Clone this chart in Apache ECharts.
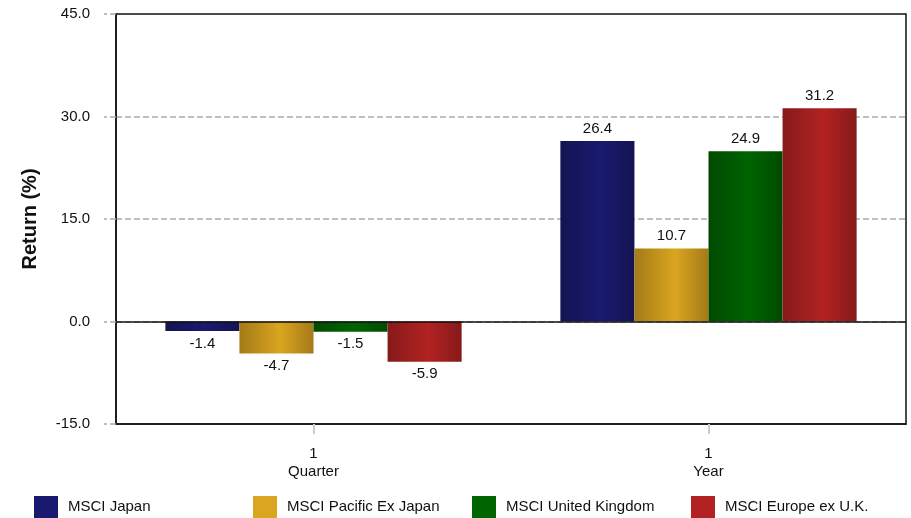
<!DOCTYPE html>
<html><head><meta charset="utf-8">
<script src="https://cdn.jsdelivr.net/npm/echarts@6/dist/echarts.min.js"></script>
<style>html,body{margin:0;padding:0;background:#fff}#c{width:911px;height:518px}</style>
</head><body><div id="c"></div>
<script>
const categories = ['1\nQuarter', '1\nYear'];
const seriesNames = ['MSCI Japan', 'MSCI Pacific Ex Japan', 'MSCI United Kingdom', 'MSCI Europe ex U.K.'];
const msciJapan = [-1.4, 26.4];
const msciPacificExJapan = [-4.7, 10.7];
const msciUnitedKingdom = [-1.5, 24.9];
const msciEuropeExUK = [-5.9, 31.2];
const yTicks = [-15, 0, 15, 30, 45];

const values = [msciJapan, msciPacificExJapan, msciUnitedKingdom, msciEuropeExUK];
const baseColors = ['#191970', '#DAA520', '#006400', '#B22222'];
const darkColors = ['#141452', '#a47a18', '#004a00', '#861a1a'];
const legendLefts = [34, 253, 472, 691];
const FONT = '"Liberation Sans", Arial, sans-serif';
const FS = 15;

function grad(i) {
  return new echarts.graphic.LinearGradient(0, 0, 1, 0, [
    {offset: 0, color: darkColors[i]},
    {offset: 0.55, color: baseColors[i]},
    {offset: 1, color: darkColors[i]}
  ]);
}

const series = values.map((v, i) => ({
  name: seriesNames[i],
  type: 'bar',
  data: v.map(x => ({value: x, label: {position: x < 0 ? 'bottom' : 'top'}})),
  barGap: '0%',
  barCategoryGap: '25%',
  itemStyle: {color: grad(i)},
  label: {show: true, distance: 5, color: '#111', fontSize: FS, fontFamily: FONT,
    formatter: p => p.value.toFixed(1)},
  markLine: i === 0 ? {silent: true, symbol: 'none', label: {show: false},
    lineStyle: {color: '#111', type: 'solid', width: 1.5}, data: [{yAxis: 0}]} : undefined
}));

const legends = seriesNames.map((n, i) => ({
  data: [{name: n, itemStyle: {color: baseColors[i]}}],
  left: legendLefts[i], top: 496, padding: 0,
  itemWidth: 24, itemHeight: 22, itemGap: 10,
  icon: 'rect',
  textStyle: {fontSize: FS, color: '#111', fontFamily: FONT, padding: [0, 0, 0, 5]}
}));

const chart = echarts.init(document.getElementById('c'), null, {renderer: 'canvas'});
chart.setOption({
  animation: false,
  textStyle: {fontFamily: FONT},
  grid: {left: 116, right: 5, top: 14, bottom: 94, show: true, borderColor: '#111', borderWidth: 1.5, containLabel: false},
  legend: legends,
  xAxis: {
    type: 'category', data: categories,
    axisLine: {show: true, onZero: false, lineStyle: {color: '#111', width: 1.5}},
    axisTick: {show: true, alignWithLabel: true, length: 10, lineStyle: {color: '#ccc', width: 2}},
    axisLabel: {color: '#111', fontSize: FS, lineHeight: 18, margin: 21, fontFamily: FONT}
  },
  yAxis: {
    type: 'value', min: yTicks[0], max: yTicks[yTicks.length - 1], interval: 15,
    name: 'Return (%)', nameLocation: 'middle', nameGap: 76,
    nameTextStyle: {fontSize: 20, fontWeight: 'bold', color: '#111', fontFamily: FONT},
    axisLine: {show: true, lineStyle: {color: '#111', width: 1.5}},
    axisTick: {show: true, length: 12, lineStyle: {color: '#aaa', type: 'dashed', width: 1.5}},
    axisLabel: {color: '#111', fontSize: FS, margin: 26, fontFamily: FONT, formatter: v => v.toFixed(1)},
    splitLine: {show: true, showMinLine: false, showMaxLine: false, lineStyle: {color: '#aaa', type: 'dashed', width: 1.5}}
  },
  series: series
});
</script></body></html>
